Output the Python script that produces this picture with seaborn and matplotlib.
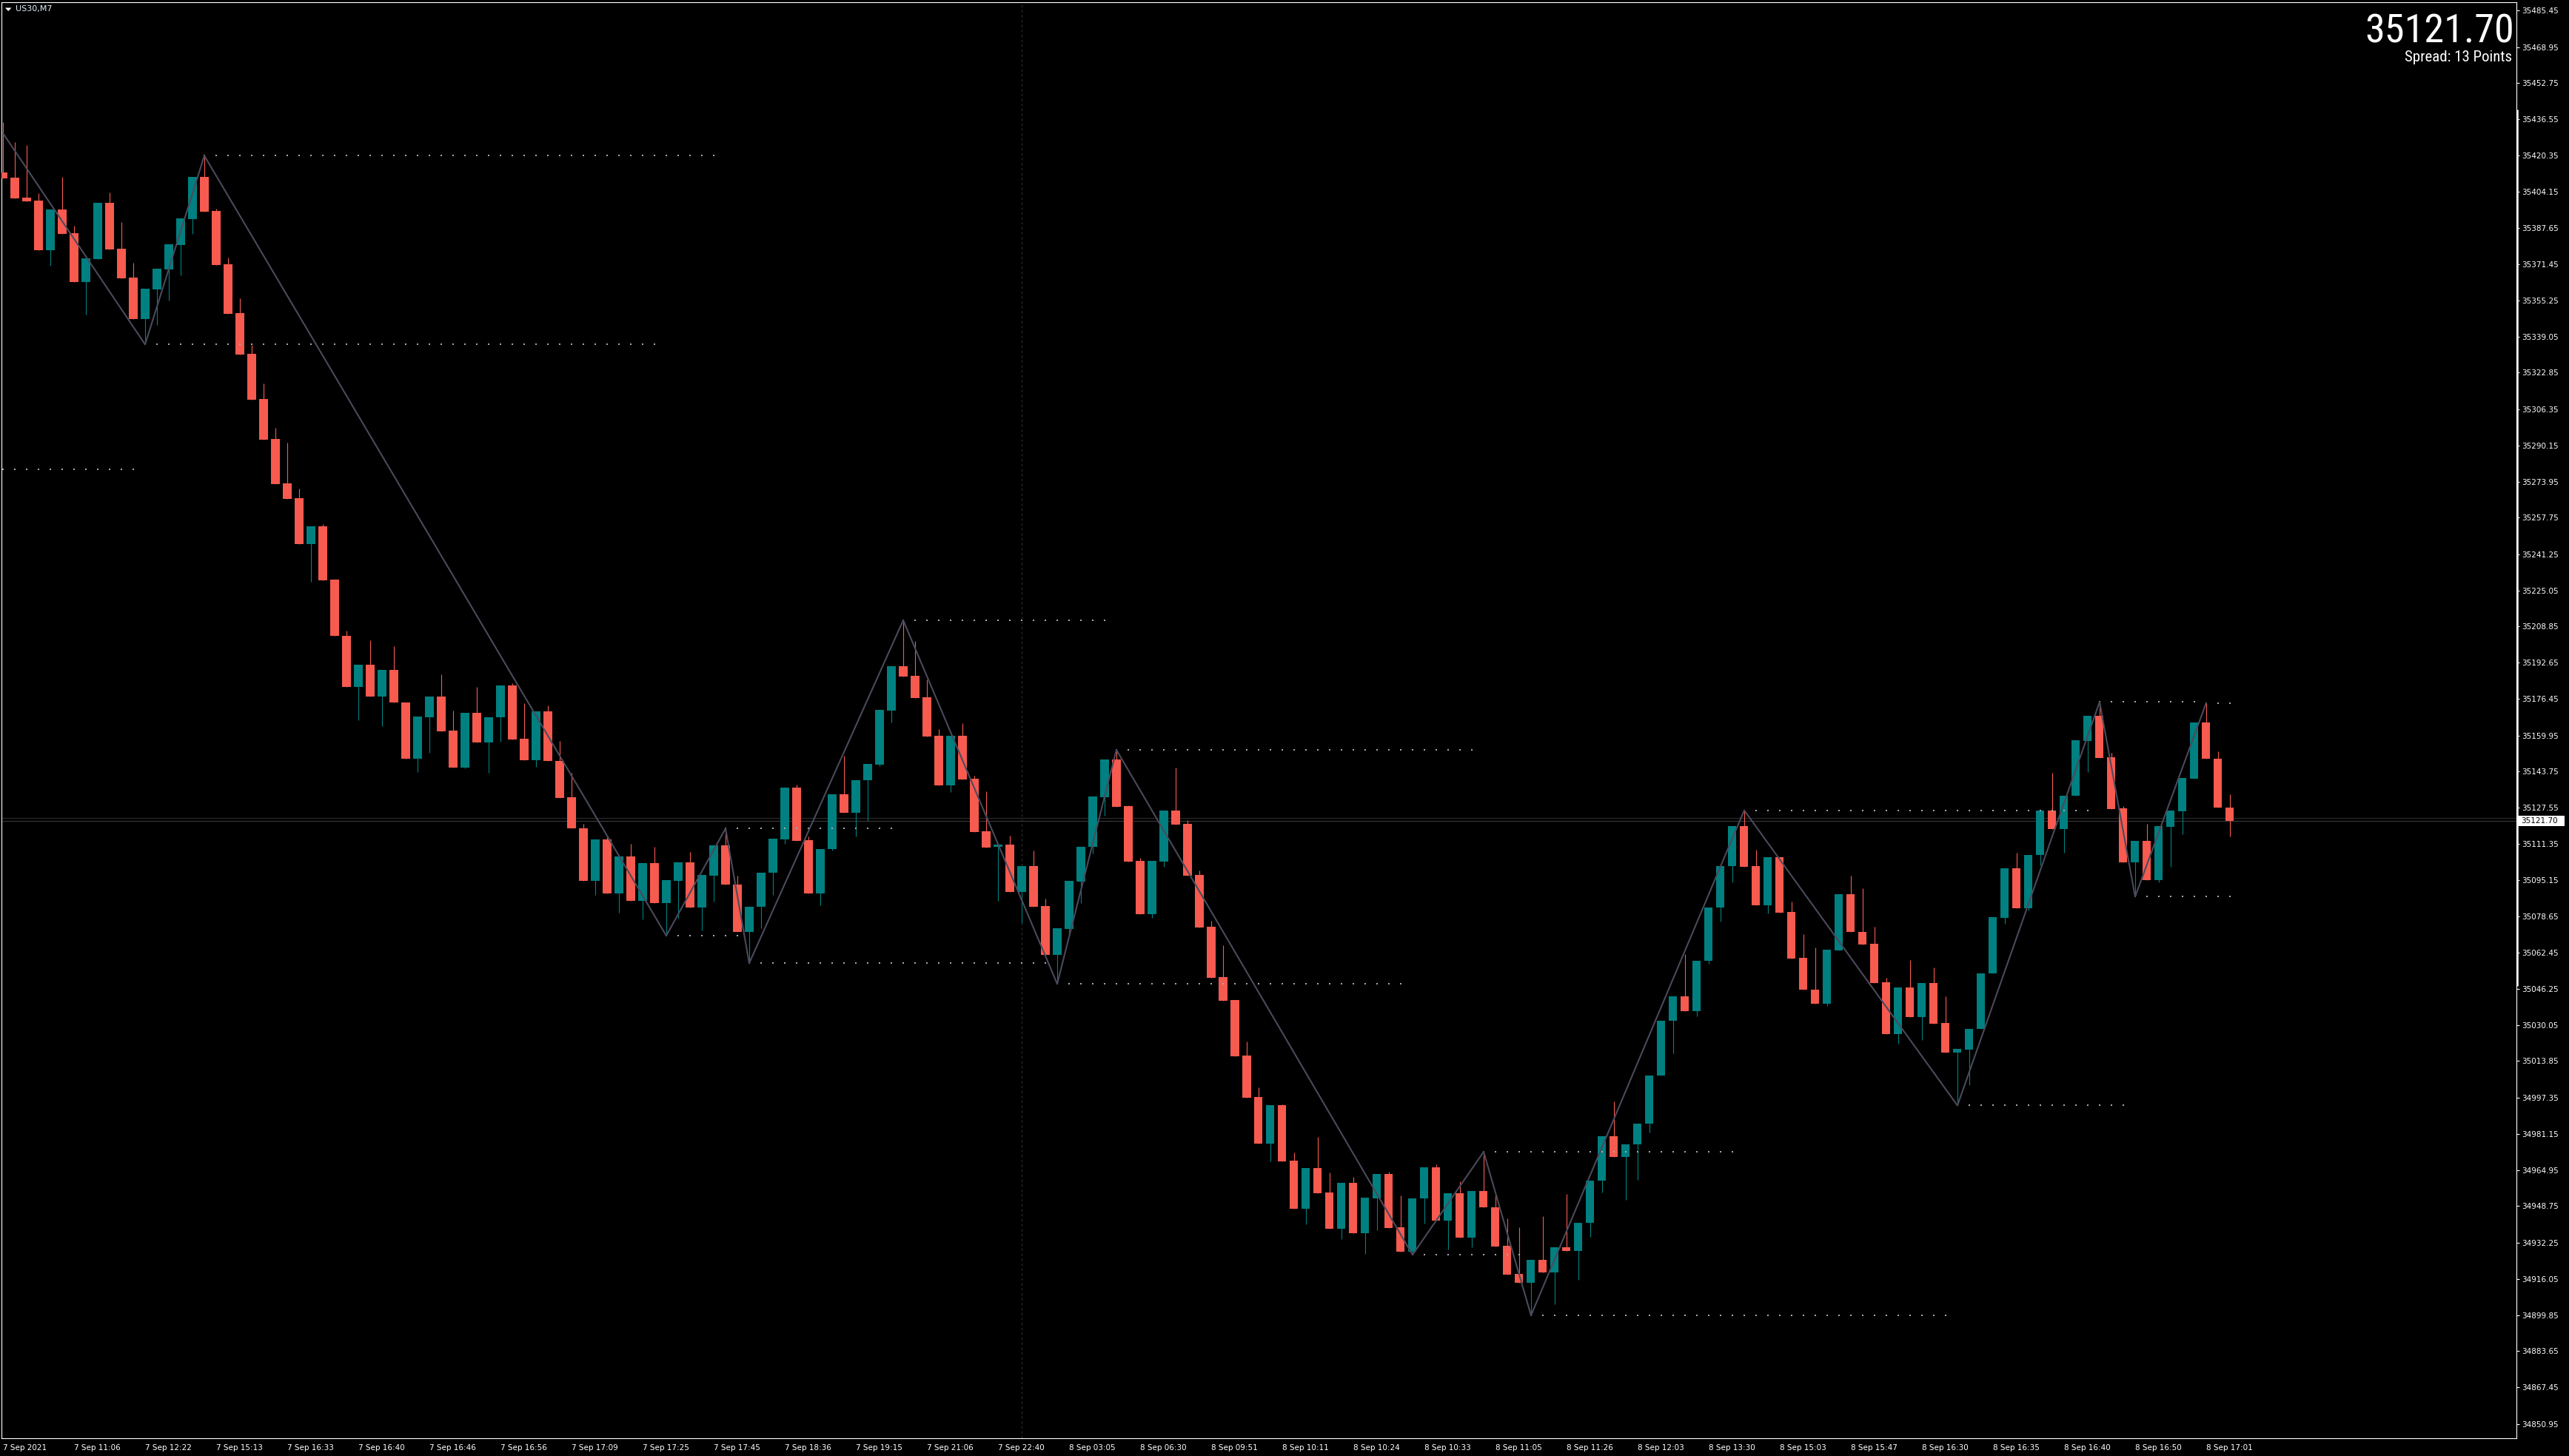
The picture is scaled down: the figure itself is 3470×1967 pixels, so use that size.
import numpy as np
import pandas as pd
import matplotlib
matplotlib.use("Agg")
import matplotlib.pyplot as plt
import matplotlib.transforms as mtransforms
from matplotlib import font_manager
from matplotlib.patches import Rectangle, Polygon
import seaborn as sns

# ---------------- data ----------------
opens = [35412.7, 35410.4, 35401.4, 35400.1, 35377.9, 35396.1, 35385.4, 35363.6, 35373.9, 35399.1,
         35378.5, 35365.5, 35347.0, 35360.3, 35369.3, 35380.1, 35391.9, 35410.7, 35395.4, 35371.5,
         35349.6, 35331.3, 35311.0, 35293.1, 35273.2, 35266.5, 35245.8, 35253.9, 35230.0, 35204.7,
         35181.7, 35191.7, 35177.6, 35189.4, 35174.8, 35149.6, 35168.3, 35177.5, 35162.2, 35145.7,
         35170.1, 35156.7, 35168.0, 35182.4, 35158.5, 35149.0, 35170.8, 35148.6, 35132.3, 35118.4,
         35094.6, 35113.3, 35089.2, 35105.7, 35085.9, 35102.7, 35084.7, 35094.7, 35103.1, 35082.8,
         35097.1, 35110.7, 35093.1, 35071.7, 35083.1, 35098.4, 35113.3, 35136.7, 35112.9, 35089.2,
         35108.9, 35133.6, 35125.4, 35139.8, 35147.0, 35171.2, 35191.2, 35186.8, 35177.0, 35159.8,
         35137.6, 35159.8, 35140.6, 35117.1, 35110.0, 35111.1, 35089.6, 35101.4, 35083.4, 35061.5,
         35073.1, 35094.4, 35110.0, 35132.3, 35149.2, 35128.3, 35103.7, 35079.8, 35103.4, 35126.3,
         35120.3, 35097.4, 35074.2, 35051.5, 35041.2, 35016.3, 34997.7, 34976.8, 34994.1, 34969.1,
         34947.5, 34965.9, 34954.9, 34938.6, 34959.2, 34936.6, 34952.2, 34963.2, 34939.2, 34928.4,
         34952.2, 34966.1, 34942.1, 34954.5, 34934.7, 34955.5, 34948.2, 34930.9, 34918.3, 34914.2,
         34924.6, 34918.8, 34930.3, 34928.7, 34941.2, 34960.0, 34980.0, 34970.9, 34976.6, 34985.6,
         35007.3, 35032.0, 35042.8, 35036.3, 35059.0, 35082.6, 35101.4, 35119.3, 35101.4, 35083.6,
         35105.4, 35080.8, 35060.2, 35045.9, 35039.6, 35063.6, 35088.7, 35071.9, 35066.5, 35049.2,
         35026.1, 35046.9, 35033.7, 35048.9, 35030.9, 35017.8, 35019.0, 35028.2, 35053.1, 35078.2,
         35100.4, 35082.3, 35106.2, 35126.3, 35118.1, 35132.8, 35157.5, 35168.8, 35150.2, 35127.3,
         35103.1, 35112.7, 35095.1, 35119.0, 35126.1, 35140.6, 35165.8, 35149.5, 35127.6]
highs = [35435.3, 35426.2, 35425.0, 35403.4, 35396.1, 35410.7, 35388.8, 35374.1, 35399.1, 35403.7,
         35390.4, 35372.2, 35360.5, 35369.5, 35380.5, 35392.1, 35410.7, 35420.2, 35396.4, 35374.5,
         35356.1, 35335.3, 35318.0, 35298.1, 35291.4, 35270.8, 35253.9, 35254.7, 35230.0, 35207.0,
         35191.7, 35202.7, 35189.4, 35200.1, 35174.8, 35168.6, 35177.5, 35187.5, 35171.1, 35170.1,
         35181.8, 35168.2, 35182.4, 35183.5, 35174.5, 35170.8, 35173.5, 35157.5, 35143.2, 35120.3,
         35113.3, 35114.7, 35105.7, 35111.3, 35102.7, 35110.0, 35095.1, 35103.1, 35107.7, 35097.5,
         35110.7, 35118.2, 35097.1, 35083.1, 35098.4, 35113.7, 35136.7, 35137.8, 35114.7, 35109.1,
         35133.6, 35150.9, 35140.0, 35147.2, 35171.5, 35191.2, 35211.7, 35202.4, 35185.2, 35162.8,
         35159.8, 35165.5, 35141.9, 35135.0, 35111.0, 35115.1, 35101.4, 35108.3, 35086.6, 35073.5,
         35094.7, 35110.1, 35132.6, 35149.2, 35153.5, 35128.6, 35105.1, 35103.7, 35126.3, 35145.6,
         35122.0, 35099.4, 35076.8, 35065.9, 35041.2, 35022.6, 35002.0, 34994.1, 34994.4, 34972.8,
         34965.9, 34979.8, 34963.8, 34959.2, 34961.8, 34952.5, 34963.2, 34964.3, 34953.5, 34952.2,
         34966.1, 34967.5, 34954.5, 34959.8, 34955.5, 34973.1, 34954.2, 34943.2, 34939.2, 34924.6,
         34944.2, 34930.3, 34954.2, 34941.2, 34960.0, 34980.0, 34995.8, 34976.6, 34985.6, 35007.3,
         35032.0, 35042.8, 35061.8, 35059.0, 35082.6, 35101.4, 35119.3, 35126.4, 35108.7, 35105.4,
         35105.4, 35085.4, 35070.9, 35064.9, 35063.8, 35088.7, 35097.1, 35091.4, 35074.1, 35051.2,
         35046.9, 35059.2, 35048.9, 35055.9, 35042.9, 35019.3, 35028.3, 35053.2, 35078.5, 35100.4,
         35107.4, 35106.4, 35126.3, 35143.2, 35132.9, 35157.9, 35168.8, 35175.0, 35152.1, 35128.2,
         35112.7, 35120.3, 35119.3, 35126.3, 35140.9, 35165.8, 35174.6, 35153.0, 35133.7]
lows = [35410.0, 35401.2, 35399.8, 35377.9, 35370.9, 35385.2, 35363.6, 35348.9, 35373.9, 35378.2,
        35365.3, 35347.0, 35335.5, 35344.3, 35355.3, 35366.6, 35385.2, 35395.2, 35371.3, 35349.3,
        35331.1, 35310.8, 35292.8, 35272.9, 35266.3, 35245.8, 35229.0, 35229.7, 35204.6, 35181.7,
        35166.7, 35177.6, 35164.0, 35174.7, 35149.6, 35143.6, 35152.2, 35161.8, 35145.7, 35145.1,
        35156.7, 35143.1, 35157.3, 35158.2, 35149.0, 35145.9, 35148.4, 35132.1, 35118.2, 35094.6,
        35088.3, 35089.2, 35080.5, 35085.9, 35077.6, 35084.7, 35070.1, 35077.9, 35082.8, 35072.3,
        35085.3, 35092.9, 35071.7, 35057.8, 35073.5, 35088.4, 35111.5, 35112.6, 35089.2, 35083.8,
        35108.4, 35125.4, 35114.7, 35121.6, 35146.2, 35165.8, 35186.4, 35176.8, 35159.5, 35137.6,
        35134.6, 35140.2, 35116.7, 35109.7, 35085.8, 35089.6, 35075.8, 35083.0, 35061.5, 35048.5,
        35070.3, 35084.8, 35107.1, 35124.0, 35128.0, 35103.4, 35079.8, 35078.2, 35101.1, 35120.0,
        35097.1, 35073.8, 35051.2, 35041.0, 35016.0, 34997.4, 34976.8, 34968.9, 34968.9, 34947.5,
        34940.4, 34954.5, 34938.6, 34934.0, 34936.6, 34927.4, 34937.9, 34938.9, 34928.4, 34926.9,
        34940.9, 34942.1, 34929.4, 34934.7, 34930.4, 34948.1, 34930.7, 34918.1, 34914.2, 34899.7,
        34918.8, 34904.7, 34928.7, 34915.8, 34935.0, 34954.8, 34970.9, 34951.4, 34960.5, 34981.9,
        35007.3, 35017.3, 35036.3, 35034.0, 35057.5, 35076.5, 35094.2, 35101.1, 35083.6, 35080.1,
        35080.6, 35060.0, 35045.8, 35039.6, 35038.6, 35063.6, 35071.7, 35066.2, 35049.0, 35026.1,
        35021.5, 35033.7, 35023.4, 35030.7, 35017.8, 34993.9, 35003.0, 35028.2, 35053.1, 35075.3,
        35082.3, 35081.4, 35101.6, 35118.1, 35107.5, 35132.8, 35143.6, 35149.9, 35126.9, 35103.1,
        35087.6, 35095.1, 35094.2, 35101.2, 35115.7, 35140.6, 35149.4, 35127.5, 35114.5]
closes = [35410.0, 35401.2, 35399.8, 35377.9, 35396.1, 35385.2, 35363.6, 35374.1, 35399.1, 35378.2,
          35365.3, 35347.0, 35360.5, 35369.5, 35380.5, 35392.1, 35410.7, 35395.2, 35371.3, 35349.3,
          35331.1, 35310.8, 35292.8, 35272.9, 35266.3, 35245.8, 35253.9, 35229.7, 35204.6, 35181.7,
          35191.7, 35177.6, 35189.4, 35174.7, 35149.6, 35168.6, 35177.5, 35161.8, 35145.7, 35170.1,
          35156.7, 35168.2, 35182.4, 35158.2, 35149.0, 35170.8, 35148.4, 35132.1, 35118.2, 35094.6,
          35113.3, 35089.2, 35105.7, 35085.9, 35102.7, 35084.7, 35095.1, 35103.1, 35082.8, 35097.5,
          35110.7, 35092.9, 35071.7, 35083.1, 35098.4, 35113.7, 35136.7, 35112.6, 35089.2, 35109.1,
          35133.6, 35125.4, 35140.0, 35147.2, 35171.5, 35191.2, 35186.4, 35176.8, 35159.5, 35137.6,
          35159.8, 35140.2, 35116.7, 35109.7, 35111.0, 35089.6, 35101.4, 35083.0, 35061.5, 35073.5,
          35094.7, 35110.1, 35132.6, 35149.2, 35128.0, 35103.4, 35079.8, 35103.7, 35126.3, 35120.0,
          35097.1, 35073.8, 35051.2, 35041.0, 35016.0, 34997.4, 34976.8, 34994.1, 34968.9, 34947.5,
          34965.9, 34954.5, 34938.6, 34959.2, 34936.6, 34952.5, 34963.2, 34938.9, 34928.4, 34952.2,
          34966.1, 34942.1, 34954.5, 34934.7, 34955.5, 34948.1, 34930.7, 34918.1, 34914.2, 34924.6,
          34918.8, 34930.3, 34928.7, 34941.2, 34960.0, 34980.0, 34970.9, 34976.6, 34985.6, 35007.3,
          35032.0, 35042.8, 35036.3, 35059.0, 35082.6, 35101.4, 35119.3, 35101.1, 35083.6, 35105.4,
          35080.6, 35060.0, 35045.8, 35039.6, 35063.8, 35088.7, 35071.7, 35066.2, 35049.0, 35026.1,
          35046.9, 35033.7, 35048.9, 35030.7, 35017.8, 35019.3, 35028.3, 35053.2, 35078.5, 35100.4,
          35082.3, 35106.4, 35126.3, 35118.1, 35132.9, 35157.9, 35168.8, 35149.9, 35126.9, 35103.1,
          35112.7, 35095.1, 35119.3, 35126.3, 35140.9, 35165.8, 35149.4, 35127.5, 35121.7]

# zigzag pivots (bar index, price)
zz_idx = [0, 12, 17, 56, 61, 63, 76, 89, 94, 119, 125, 129, 147, 165, 177, 180, 186]
zz_price = [35430.3, 35335.5, 35420.2, 35070.1, 35118.2, 35057.8, 35211.7, 35048.5, 35153.5,
            34926.9, 34973.1, 34899.7, 35126.4, 34993.9, 35175.0, 35087.6, 35174.6]

# dotted pivot levels
level_start = [0, 12, 17, 56, 61, 63, 76, 89, 94, 119, 125, 129, 147, 165, 177, 180, 186]
level_end = [11, 55, 60, 62, 75, 88, 93, 118, 124, 128, 146, 164, 176, 179, 185, 188, 188]
level_price = [35279.5, 35335.5, 35420.2, 35070.1, 35118.2, 35057.8, 35211.7, 35048.5, 35153.5,
               34926.9, 34973.1, 34899.7, 35126.4, 34993.9, 35175.0, 35087.6, 35174.6]

x_tick_labels = ["7 Sep 2021", "7 Sep 11:06", "7 Sep 12:22", "7 Sep 15:13", "7 Sep 16:33",
                 "7 Sep 16:40", "7 Sep 16:46", "7 Sep 16:56", "7 Sep 17:09", "7 Sep 17:25",
                 "7 Sep 17:45", "7 Sep 18:36", "7 Sep 19:15", "7 Sep 21:06", "7 Sep 22:40",
                 "8 Sep 03:05", "8 Sep 06:30", "8 Sep 09:51", "8 Sep 10:11", "8 Sep 10:24",
                 "8 Sep 10:33", "8 Sep 11:05", "8 Sep 11:26", "8 Sep 12:03", "8 Sep 13:30",
                 "8 Sep 15:03", "8 Sep 15:47", "8 Sep 16:30", "8 Sep 16:35", "8 Sep 16:40",
                 "8 Sep 16:50", "8 Sep 17:01"]
y_tick_labels = ["35485.45", "35468.95", "35452.75", "35436.55", "35420.35", "35404.15",
                 "35387.65", "35371.45", "35355.25", "35339.05", "35322.85", "35306.35",
                 "35290.15", "35273.95", "35257.75", "35241.25", "35225.05", "35208.85",
                 "35192.65", "35176.45", "35159.95", "35143.75", "35127.55", "35111.35",
                 "35095.15", "35078.65", "35062.45", "35046.25", "35030.05", "35013.85",
                 "34997.35", "34981.15", "34964.95", "34948.75", "34932.25", "34916.05",
                 "34899.85", "34883.65", "34867.45", "34850.95"]

symbol_title = "US30,M7"
bid_price = 35121.70
ask_price = 35123.00
spread_text = "Spread: 13 Points"
separator_bar = 85.97

# ---------------- style ----------------
sns.set_style("dark", {"axes.facecolor": "black", "figure.facecolor": "black"})
plt.rcParams["font.family"] = ["DejaVu Sans"]

# choose a narrow font for the big price readout if one is installed
narrow_props = None
names = {f.name for f in font_manager.fontManager.ttflist}
for cand in ["Liberation Sans Narrow", "Arial Narrow", "Roboto Condensed", "Open Sans Condensed",
             "Noto Sans Condensed", "DejaVu Sans Condensed"]:
    if cand in names:
        narrow_props = dict(family=[cand, "DejaVu Sans"])
        break
if narrow_props is None:
    cond = [f for f in font_manager.fontManager.ttflist
            if f.stretch in ("condensed", "semi-condensed", "extra-condensed", 75, 87.5, 62.5)
            and f.style == "normal" and f.weight in (400, "normal", "regular")]
    if cond:
        narrow_props = dict(fname=cond[0].fname)
big_scale = 0.93
if narrow_props is None:
    narrow_props = dict(family=["Liberation Sans", "DejaVu Sans"])
    big_scale = 0.86

W, H = 3470, 1967
fig = plt.figure(figsize=(W / 100, H / 100), dpi=100, facecolor="black")
ax = fig.add_axes([2 / W, 24 / H, 3397 / W, 1940.3 / H])
ax.set_facecolor("black")

BULL = "#008080"
BEAR = "#F75A4F"

o = np.array(opens); h = np.array(highs); l = np.array(lows); c = np.array(closes)
x = np.arange(len(o))
bull = c >= o
cols = np.where(bull, BULL, BEAR)

# background lines
ax.axvline(separator_bar, color="#2E2E2E", lw=0.8, ls=(0, (3, 3)), zorder=1)
ax.axhline(bid_price, color="#3A3A3A", lw=0.8, zorder=1)
ax.axhline(ask_price, color="#2C2C2C", lw=0.8, zorder=1)

# candles
ax.vlines(x, l, h, colors=cols, lw=0.8, zorder=2)
body_bottom = np.minimum(o, c)
body_h = np.maximum(np.abs(c - o), 0.5)
ax.bar(x, body_h, bottom=body_bottom, width=0.69, color=cols, linewidth=0, zorder=3)

# dotted levels
dx, dy = [], []
for s, e, p in zip(level_start, level_end, level_price):
    for i in range(s, e + 1):
        dx.append(i); dy.append(p)
dots = pd.DataFrame({"x": dx, "y": dy})
sns.scatterplot(data=dots, x="x", y="y", marker="s", s=3.5, color="#A2AAB3",
                linewidth=0, ax=ax, zorder=4, legend=False)

# zigzag
zz = pd.DataFrame({"x": zz_idx, "y": zz_price})
sns.lineplot(data=zz, x="x", y="y", sort=False, estimator=None, color="#4A4A5C",
             lw=1.5, ax=ax, zorder=5, legend=False)

ax.set_xlim(-0.125, 212.19)
ax.set_ylim(34844.54, 35489.20)
ax.set_xlabel(""); ax.set_ylabel("")
ax.grid(False)

for sp in ax.spines.values():
    sp.set_color("white"); sp.set_linewidth(0.8); sp.set_visible(True)

ax.yaxis.tick_right()
ax.set_yticks([float(t) for t in y_tick_labels])
ax.set_yticklabels(y_tick_labels)
ax.tick_params(axis="y", colors="white", length=3, width=0.8, pad=2.5, labelsize=7.5,
               left=False, right=True, labelleft=False, labelright=True)
ax.set_xticks(np.arange(len(x_tick_labels)) * 6)
ax.set_xticklabels(x_tick_labels, ha="left")
ax.tick_params(axis="x", colors="white", length=3, width=0.8, pad=2.5, labelsize=7.5)
for t in ax.get_xticklabels():
    t.set_horizontalalignment("left")

# thick bar on right axis
trans = mtransforms.blended_transform_factory(ax.transAxes, ax.transData)
ax.plot([1.0003, 1.0003], [35440.9, 35047.5], color="white", lw=1.8, transform=trans,
        clip_on=False, zorder=6, solid_capstyle="butt")

# current price box
fig.patches.append(Rectangle((3400.7 / W, 1 - 1115.7 / H), 63.3 / W, 13.2 / H,
                             transform=fig.transFigure, facecolor="white", edgecolor="none"))
fig.text(3405 / W, 1 - 1109.3 / H, f"{bid_price:.2f}", color="black", fontsize=7.5,
         ha="left", va="center")

# symbol title
fig.patches.append(Polygon([(7 / W, 1 - 10.5 / H), (15.5 / W, 1 - 10.5 / H), (11.2 / W, 1 - 15 / H)],
                           closed=True, transform=fig.transFigure, facecolor="white", edgecolor="none"))
fig.text(21 / W, 1 - 12.5 / H, symbol_title, color="#E6EEF6", fontsize=8, ha="left", va="center")

# big price + spread
fig.text(3396 / W, 1 - 58 / H, f"{bid_price:.2f}", color="white", fontsize=42 * big_scale,
         ha="right", va="baseline", **narrow_props)
fig.text(3393 / W, 1 - 83 / H, spread_text, color="white", fontsize=15,
         ha="right", va="baseline", **narrow_props)

fig.savefig("out.png", dpi=100, facecolor="black")
